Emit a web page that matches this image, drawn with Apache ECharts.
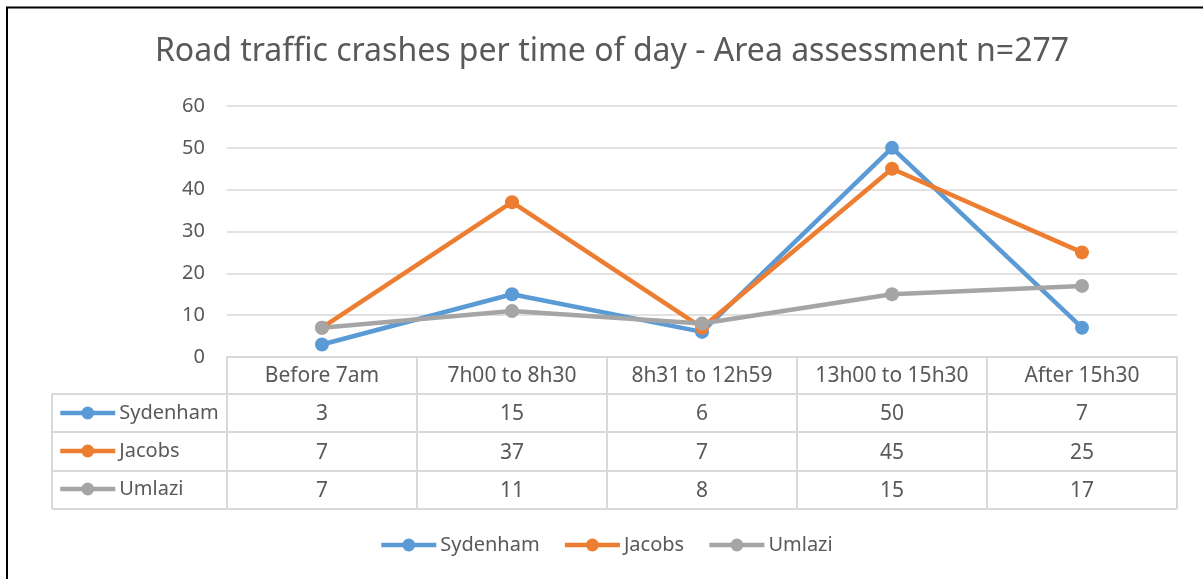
<!DOCTYPE html>
<html>
<head>
<meta charset="utf-8">
<script src="https://cdn.jsdelivr.net/npm/echarts@6/dist/echarts.min.js"></script>
<style>
  html, body { margin: 0; padding: 0; background: #fff; }
  #container { width: 1203px; height: 579px; }
</style>
</head>
<body>
<div id="container"></div>
<script>
var categories = ['Before 7am', '7h00 to 8h30', '8h31 to 12h59', '13h00 to 15h30', 'After 15h30'];
var sydenham = [3, 15, 6, 50, 7];
var jacobs = [7, 37, 7, 45, 25];
var umlazi = [7, 11, 8, 15, 17];
var seriesNames = ['Sydenham', 'Jacobs', 'Umlazi'];
var yTicks = [0, 10, 20, 30, 40, 50, 60];

var textColor = '#595959';
var lineColor = '#D9D9D9';
var fontName = 'Noto Sans';

function lineSeries(name, data, color) {
    return {
        name: name,
        type: 'line',
        data: data,
        symbol: 'circle',
        symbolSize: 14,
        color: color,
        lineStyle: { width: 4.5, color: color },
        itemStyle: { color: color }
    };
}

function legendAt(orient, left, top, gap) {
    return {
        data: seriesNames,
        orient: orient,
        left: left,
        top: top,
        padding: 0,
        itemWidth: 55,
        itemHeight: 16,
        itemGap: gap,
        lineStyle: { width: 4.5 },
        textStyle: { fontFamily: fontName, fontSize: 20, color: textColor, padding: [0, 0, 0, -1] },
        selectedMode: false
    };
}

// table row borders (left row-label column + rows under the axis)
var tableLines = [];
[394, 432, 471, 509].forEach(function (y) {
    tableLines.push({ type: 'line', shape: { x1: 52, y1: y, x2: 1177, y2: y }, style: { stroke: lineColor, lineWidth: 2 } });
});
tableLines.push({ type: 'line', shape: { x1: 52, y1: 394, x2: 52, y2: 509 }, style: { stroke: lineColor, lineWidth: 2 } });

option = {
    animation: false,
    backgroundColor: '#fff',
    textStyle: { fontFamily: fontName },
    title: {
        text: 'Road traffic crashes per time of day - Area assessment n=277',
        left: 607,
        textAlign: 'center',
        top: 31,
        textStyle: { fontFamily: fontName, fontSize: 32, fontWeight: 'normal', color: textColor }
    },
    legend: [
        legendAt('vertical', 58, 403, 18),
        legendAt('horizontal', 379, 535, 23)
    ],
    grid: { left: 227, right: 26, top: 106, bottom: 222, containLabel: false },
    xAxis: {
        type: 'category',
        data: categories,
        boundaryGap: true,
        axisLine: { lineStyle: { color: lineColor, width: 2 } },
        axisTick: { show: true, length: 152, lineStyle: { color: lineColor, width: 2 } },
        axisLabel: {
            margin: 0,
            interval: 0,
            color: textColor,
            fontFamily: fontName,
            fontSize: 21,
            lineHeight: 38.3,
            formatter: function (value, i) {
                return value + '\n' + sydenham[i] + '\n' + jacobs[i] + '\n' + umlazi[i];
            }
        }
    },
    yAxis: {
        type: 'value',
        min: yTicks[0],
        max: yTicks[yTicks.length - 1],
        interval: 10,
        axisLine: { show: false },
        axisTick: { show: false },
        axisLabel: { margin: 22, color: textColor, fontFamily: fontName, fontSize: 20 },
        splitLine: { lineStyle: { color: lineColor, width: 1.5 } }
    },
    graphic: [
        { type: 'rect', shape: { x: 7, y: 7.5, width: 1400, height: 800 }, style: { fill: null, stroke: '#000', lineWidth: 2 }, silent: true }
    ].concat(tableLines),
    series: [
        lineSeries(seriesNames[0], sydenham, '#5B9BD5'),
        lineSeries(seriesNames[1], jacobs, '#ED7D31'),
        lineSeries(seriesNames[2], umlazi, '#A5A5A5')
    ]
};

var myChart = echarts.init(document.getElementById('container'));
myChart.setOption(option);
</script>
</body>
</html>
